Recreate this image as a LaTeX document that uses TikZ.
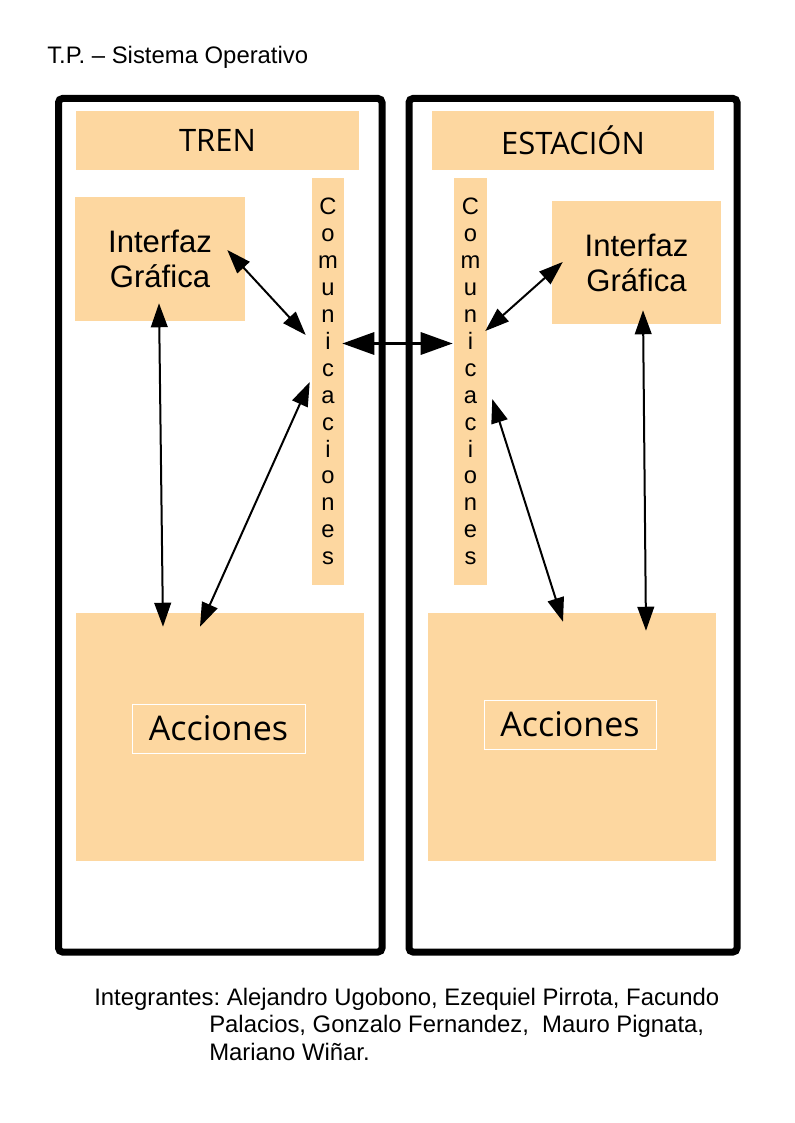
\documentclass[tikz,border=0pt]{standalone}
\usepackage{fontspec}
\setmainfont{Liberation Sans}
\newfontfamily\opensans{Open Sans}
\usepackage{tikz}
\usetikzlibrary{arrows.meta,calc}
\definecolor{naranja}{HTML}{FDD7A0}
\frenchspacing

\tikzset{
  marco/.style={draw=black, line width=5.25pt, rounded corners=3pt},
  bloque/.style={fill=naranja, inner sep=0pt},
  titulo/.style={font=\opensans\fontsize{23.2}{27}\selectfont},
  texto/.style={font=\fontsize{23.3}{26.3}\selectfont, align=center},
  vertical/.style={font=\fontsize{17.8}{20.2}\selectfont, align=center},
  etiqueta/.style={draw=white, line width=0.75pt, inner sep=0pt, font=\opensans\fontsize{25.5}{30}\selectfont},
  linea/.style={anchor=base west, inner sep=0pt, font=\fontsize{17.9}{21}\selectfont},
  flecha/.style={<->, line width=1.5pt},
  flechagruesa/.style={<->, line width=2.5pt, >={Triangle[length=24pt,width=16.5pt]}}
}

\begin{document}
\begin{tikzpicture}[x=0.75pt, y=-0.75pt, >={Triangle[length=18pt,width=12.5pt]}]
    \useasboundingbox (0,0) rectangle (794,1123);

    \node [linea] (tp) at (47,64) {T.P. – Sistema Operativo};

    % los dos sistemas
    \draw [marco] (58.5,98.5) rectangle (382,952);
    \draw [marco] (409,98.5) rectangle (737,952);

    % tren
    \node [bloque, titulo, minimum width=212.25pt, minimum height=44.25pt] (tren) at (217.5,140.5) {TREN};
    \node [bloque, texto, minimum width=127.5pt, minimum height=93pt] (ifL) at (160,259) {Interfaz\\Gráfica};
    \node [bloque, vertical, minimum width=24pt, minimum height=305.25pt] (comL) at (328,381.5) {C\\o\\m\\u\\n\\i\\c\\a\\c\\i\\o\\n\\e\\s};
    \node [bloque, minimum width=216pt, minimum height=186pt] (acL) at (220,737) {};
    \node [etiqueta, minimum width=129.75pt, minimum height=36.75pt] (acLt) at (218.5,728.5) {Acciones};

    % estacion
    \node [bloque, titulo, minimum width=211.5pt, minimum height=44.25pt] (estacion) at (573,140.5) {ESTACIÓN};
    \node [bloque, texto, minimum width=126.75pt, minimum height=92.25pt] (ifR) at (636.5,262.5) {Interfaz\\Gráfica};
    \node [bloque, vertical, minimum width=24.75pt, minimum height=305.25pt] (comR) at (470.5,381.5) {C\\o\\m\\u\\n\\i\\c\\a\\c\\i\\o\\n\\e\\s};
    \node [bloque, minimum width=216pt, minimum height=186pt] (acR) at (572,737) {};
    \node [etiqueta, minimum width=129pt, minimum height=36.75pt] (acRt) at (570,724.5) {Acciones};

    % flechas
    \draw [flecha] ($(ifL.east)+(-18,-9)$) -- ($(comL.west)+(-6,-46.5)$);
    \draw [flecha] ($(ifL.south)+(-1,-18)$) -- ($(acL.north)+(-57,14)$);
    \draw [flecha] ($(comL.west)+(-2,0.5)$) -- ($(acL.north)+(-20,14)$);
    \draw [flechagruesa] ($(comL.east)+(-2,-38)$) -- ($(comR.west)+(-1,-38)$);
    \draw [flecha] ($(comR.east)+(-2,-50.5)$) -- ($(ifR.west)+(11,-0.5)$);
    \draw [flecha] ($(comR.east)+(5,17.5)$) -- ($(acR.north)+(-9,9)$);
    \draw [flecha] ($(ifR.south)+(6.5,-14)$) -- ($(acR.north)+(74,18)$);

    \node [linea] (int1) at (94,1005) {Integrantes: Alejandro Ugobono, Ezequiel Pirrota, Facundo};
    \node [linea] (int2) at (209,1032.5) {Palacios, Gonzalo Fernandez, \ Mauro Pignata,};
    \node [linea] (int3) at (209,1060) {Mariano Wiñar.};
\end{tikzpicture}
\end{document}
